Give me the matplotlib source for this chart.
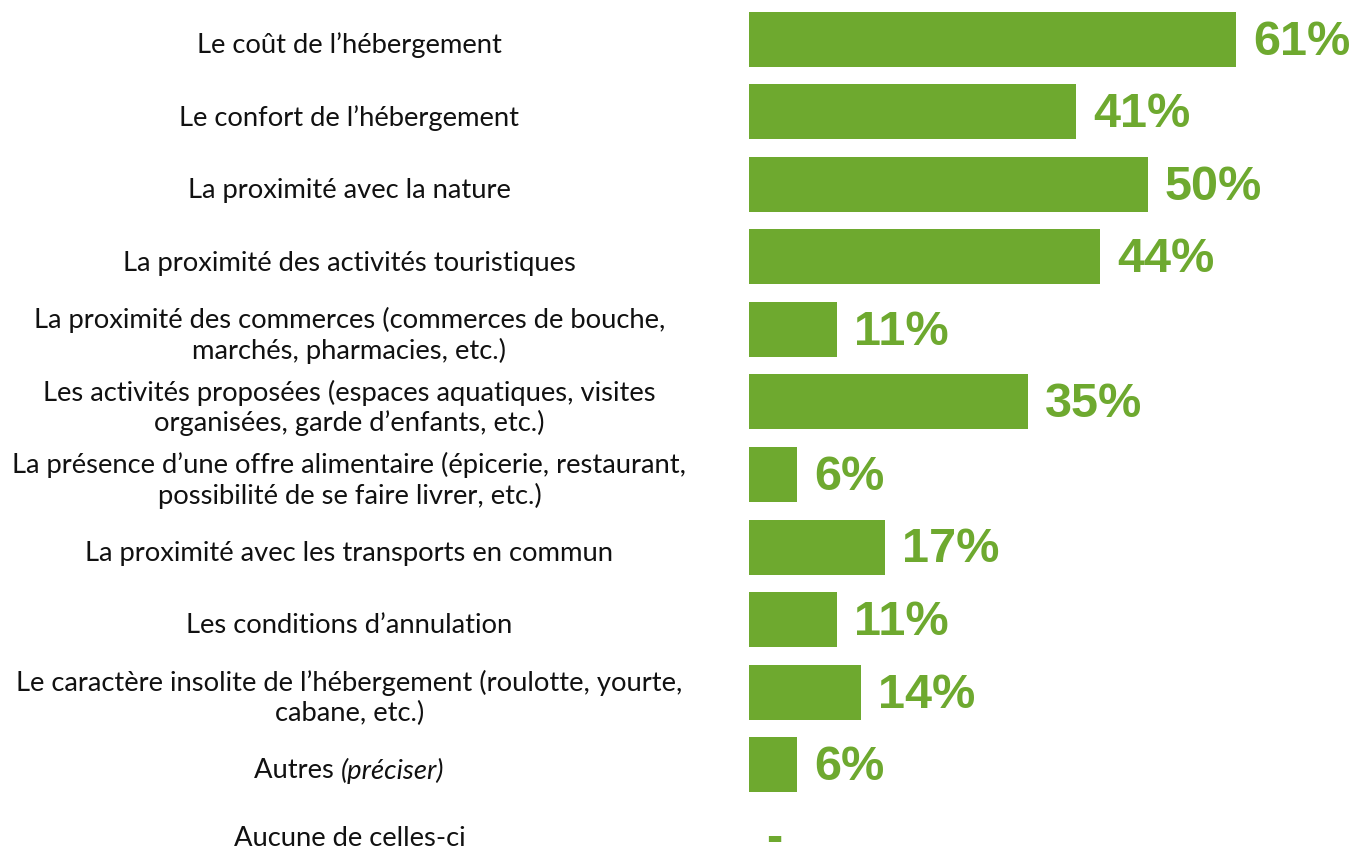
import matplotlib
matplotlib.use("Agg")
import matplotlib.pyplot as plt
from matplotlib.transforms import blended_transform_factory, offset_copy

categories = [
    "Le coût de l’hébergement",
    "Le confort de l’hébergement",
    "La proximité avec la nature",
    "La proximité des activités touristiques",
    "La proximité des commerces (commerces de bouche,\nmarchés, pharmacies, etc.)",
    "Les activités proposées (espaces aquatiques, visites\norganisées, garde d’enfants, etc.)",
    "La présence d’une offre alimentaire (épicerie, restaurant,\npossibilité de se faire livrer, etc.)",
    "La proximité avec les transports en commun",
    "Les conditions d’annulation",
    "Le caractère insolite de l’hébergement (roulotte, yourte,\ncabane, etc.)",
    "Autres",
    "Aucune de celles-ci",
]
values = [61, 41, 50, 44, 11, 35, 6, 17, 11, 14, 6, 0]
value_labels = ["61%", "41%", "50%", "44%", "11%", "35%", "6%", "17%", "11%", "14%", "6%", "-"]
italic_suffix = {10: "(préciser)"}

GREEN = "#6EA92F"
W, H = 1352, 851
fig = plt.figure(figsize=(W / 100, H / 100), dpi=100)
ax = fig.add_axes([749 / W, 0, 1 - 749 / W, 1])
px_per_unit = 7.98
ax.set_xlim(0, (W - 749) / px_per_unit)
y0, step = 39.5, 72.5
ax.set_ylim((H - y0) / step, -y0 / step)
ax.axis("off")

ys = list(range(len(categories)))
ax.barh(ys, values, height=55 / step, color=GREEN, align="center")

label_font = dict(family=["Lato", "DejaVu Sans"], fontsize=19.7, color="#111111")
base_trans = blended_transform_factory(fig.transFigure, ax.transData)
cx = 349.5 / W
renderer = fig.canvas.get_renderer()
for i, (cat, y) in enumerate(zip(categories, ys)):
    dy = -2 if i == len(categories) - 1 else -6
    lab_trans = offset_copy(base_trans, fig=fig, x=0, y=dy, units="dots")
    if i in italic_suffix:
        t1 = fig.text(0, 0, cat + " ", **label_font)
        t2 = fig.text(0, 0, italic_suffix[i], style="italic", **label_font)
        w1 = t1.get_window_extent(renderer).width
        w2 = t2.get_window_extent(renderer).width
        t1.remove(); t2.remove()
        start = 349.5 - (w1 + w2) / 2
        ax.text(start / W, y, cat + " ", transform=lab_trans, ha="left", va="center", **label_font)
        ax.text((start + w1) / W, y, italic_suffix[i], transform=lab_trans, ha="left", va="center",
                style="italic", **label_font)
    else:
        ax.text(cx, y, cat, transform=lab_trans, ha="center", va="center",
                multialignment="center", linespacing=1.2, **label_font)

val_trans = offset_copy(ax.transData, fig=fig, x=17, y=-3, units="dots")
for v, y, lab in zip(values, ys, value_labels):
    ax.text(v, y, lab, transform=val_trans, ha="left", va="center", fontsize=35,
            fontweight="bold", family=["Liberation Sans", "DejaVu Sans"], color=GREEN)

fig.savefig("out.png", dpi=100)
